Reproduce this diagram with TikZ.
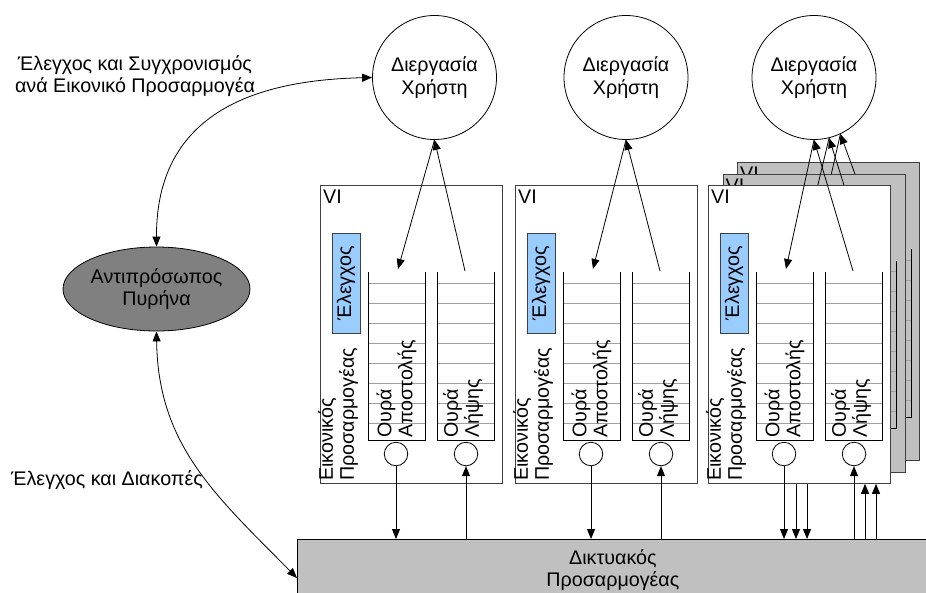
\documentclass[tikz,border=0pt]{standalone}
\usepackage{fontspec}
\setmainfont{Liberation Sans}
\usetikzlibrary{shapes.geometric,arrows.meta,calc}

\definecolor{ctlblue}{HTML}{99CCFF}
\definecolor{panelgray}{HTML}{C0C0C0}
\definecolor{kernelgray}{HTML}{808080}
\definecolor{tickgray}{HTML}{A0A0A0}
\definecolor{edgegray}{HTML}{404040}

\tikzset{
  >={Triangle[length=10pt,width=8pt]},
  every node/.style={font=\fontsize{19.7}{22}\selectfont},
  link/.style={draw=black, line width=0.8pt},
  proc/.style={circle, draw, line width=0.8pt, minimum size=124pt, inner sep=0pt,
    align=center, font=\fontsize{19.7}{23}\selectfont},
  vtext/.style={rotate=90, align=left, inner sep=0pt, font=\fontsize{19.7}{21}\selectfont},
  port/.style={circle, draw, line width=0.8pt, minimum size=23.5pt, inner sep=0pt},
  % one virtual interface: frame, control block, send/receive queues and ports
  viunit/.pic={
    \node[draw=edgegray, fill=#1, line width=0.8pt, minimum width=182pt,
      minimum height=298pt, anchor=north west, inner sep=0pt] (-box) at (0,0) {};
    \node[anchor=north west, inner sep=0pt] (-vi) at (3,5) {VI};
    \node[draw=edgegray, fill=ctlblue, rotate=90, minimum width=100pt,
      minimum height=28pt, inner sep=0pt, line width=0.8pt] (-ctl) at (26,98) {Έλεγχος};
    \foreach \t in {98,118,...,238} {
      \draw[tickgray, line width=0.8pt] (48,\t) -- (105,\t) (117,\t) -- (174,\t);
    }
    \draw[line width=0.8pt] (48,87) -- (48,255) -- (105,255) -- (105,87);
    \draw[line width=0.8pt] (117,87) -- (117,255) -- (174,255) -- (174,87);
    \coordinate (-sin) at (78,84);
    \coordinate (-rout) at (145,86);
    \node[port] (-sc) at (76,269) {};
    \node[port] (-rc) at (146,269) {};
    \node[vtext, anchor=west] (-name) at (18,296) {Εικονικός\\Προσαρμογέας};
    \node[vtext, anchor=west] (-sq) at (76.5,253) {Ουρά\\Αποστολής};
    \node[vtext, anchor=west] (-rq) at (143,253) {Ουρά\\Λήψης};
  }
}

\begin{document}
\begin{tikzpicture}[x=1pt, y=-1pt]
\clip (0,0) rectangle (926,592);

% kernel agent and its control paths
\node[ellipse, draw, line width=0.8pt, fill=kernelgray, minimum width=187pt,
  minimum height=84pt, inner sep=0pt, align=center] (ka) at (156.5,289) {Αντιπρόσωπος\\Πυρήνα};
\node[align=center] (lbl1) at (135,76) {Έλεγχος και Συγχρονισμός\\ανά Εικονικό Προσαρμογέα};
\node (lbl2) at (107,480) {Έλεγχος και Διακοπές};

% user processes
\node[proc] (p1) at (434.5,77.5) {Διεργασία\\Χρήστη};
\node[proc] (p2) at (626,77.5) {Διεργασία\\Χρήστη};
\node[proc] (p3) at (814,77.5) {Διεργασία\\Χρήστη};

% network adapter
\node[draw, line width=0.8pt, fill=panelgray, minimum width=631pt, minimum height=61pt,
  anchor=north west, inner sep=0pt, align=center] (nic) at (297,539) {Δικτυακός\\Προσαρμογέας};

\draw[link,<->] (ka.north) .. controls (156,110) and (260,80) .. (p1.west);
\draw[link,<->] (ka.south) .. controls (158,445) and (215,495) .. ([yshift=-39pt]nic.north west);

% first and second interfaces
\pic (v1) at (320,185) {viunit=white};
\pic (v2) at (515,185) {viunit=white};
\draw[link,->] (p1.south) -- (v1-sin);
\draw[link,->] (v1-rout) -- (p1.south);
\draw[link,->] (p2.south) -- (v2-sin);
\draw[link,->] (v2-rout) -- (p2.south);

% stacked interfaces of the third process, back to front
\pic (v3c) at (737,162) {viunit=panelgray};
\draw[link,->] (p3.-65) -- (v3c-sin);
\draw[link,->] (v3c-rout) -- (p3.-65);
\pic (v3b) at (722.5,173.5) {viunit=panelgray};
\draw[link,->] (p3.-76) -- (v3b-sin);
\draw[link,->] (v3b-rout) -- (p3.-76);
\pic (v3) at (708,185) {viunit=white};
\draw[link,->] (p3.south) -- (v3-sin);
\draw[link,->] (v3-rout) -- (p3.south);

% ports to the network adapter
\foreach \v in {v1,v2,v3} {
  \draw[link,->] (\v-sc.south) -- (\v-sc.south |- nic.north);
  \draw[link,->] (\v-rc.south |- nic.north) -- (\v-rc.south);
}
\coordinate (s2) at ([xshift=12pt]v3-sc.south |- v3-box.south);
\coordinate (s3) at ([xshift=23pt]v3-sc.south |- v3-box.south);
\coordinate (r2) at ([xshift=11pt]v3-rc.south |- v3-box.south);
\coordinate (r3) at ([xshift=22pt]v3-rc.south |- v3-box.south);
\draw[link,->] (s2) -- (s2 |- nic.north);
\draw[link,->] (s3) -- (s3 |- nic.north);
\draw[link,->] (r2 |- nic.north) -- (r2);
\draw[link,->] (r3 |- nic.north) -- (r3);
\end{tikzpicture}
\end{document}
